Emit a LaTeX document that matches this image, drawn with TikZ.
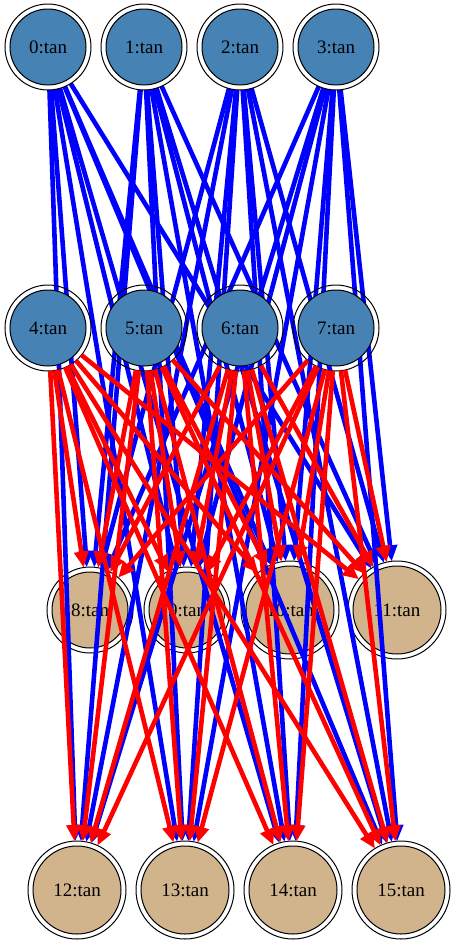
\documentclass[tikz,border=0pt]{standalone}
\usepackage{fontspec}
\setmainfont{Liberation Serif}
\usetikzlibrary{arrows.meta,calc}
\definecolor{NodeSteel}{RGB}{70,130,180}
\definecolor{NodeTan}{RGB}{210,180,140}
\pgfdeclarelayer{tanlayer}
\pgfdeclarelayer{bluelayer}
\pgfsetlayers{tanlayer,bluelayer,main}

\begin{document}
\begin{tikzpicture}[x=1pt,y=-1pt,
  ring/.style={circle,draw=black,line width=1pt,inner sep=0pt,outer sep=5pt,
    font=\fontsize{19}{22}\selectfont},
  small/.style={ring,minimum size=76pt},
  big/.style={ring,minimum size=88pt},
  wire/.style={line width=4.6pt,-{Triangle[length=16pt,width=14pt]}}]
  \useasboundingbox (0,0) rectangle (455,945);
  % lower ranks, under every edge
  \begin{pgfonlayer}{tanlayer}
    \foreach \i/\x/\s in {8/90/small,9/187/small,10/290/big,11/397/big}
      \node[\s,fill=NodeTan] (n\i) at (\x,610) {\i:tan};
    \foreach \i/\x in {12/77,13/185,14/293,15/401}
      \node[big,fill=NodeTan] (n\i) at (\x,890) {\i:tan};
    \foreach \i in {8,...,15}
      \draw[line width=1pt] let \p1=($(n\i.north)-(n\i.center)$) in
        (n\i.center) circle[radius=\y1];
  \end{pgfonlayer}
  % upper ranks
  \foreach \i/\x in {0/48,1/144,2/240,3/336}
    \node[small,fill=NodeSteel] (n\i) at (\x,47) {\i:tan};
  \foreach \i/\x in {4/48,5/144,6/240,7/336}
    \node[small,fill=NodeSteel] (n\i) at (\x,328) {\i:tan};
  \foreach \i in {0,...,7}
    \draw[line width=1pt] let \p1=($(n\i.north)-(n\i.center)$) in
      (n\i.center) circle[radius=\y1];
  % edges
  \begin{pgfonlayer}{bluelayer}
    \foreach \s in {0,...,3}
      \foreach \t in {8,...,15}
        \draw[wire,blue] (n\s) -- (n\t);
  \end{pgfonlayer}
  \foreach \s in {4,...,7}
    \foreach \t in {8,...,15}
      \draw[wire,red] (n\s) -- (n\t);
\end{tikzpicture}
\end{document}
